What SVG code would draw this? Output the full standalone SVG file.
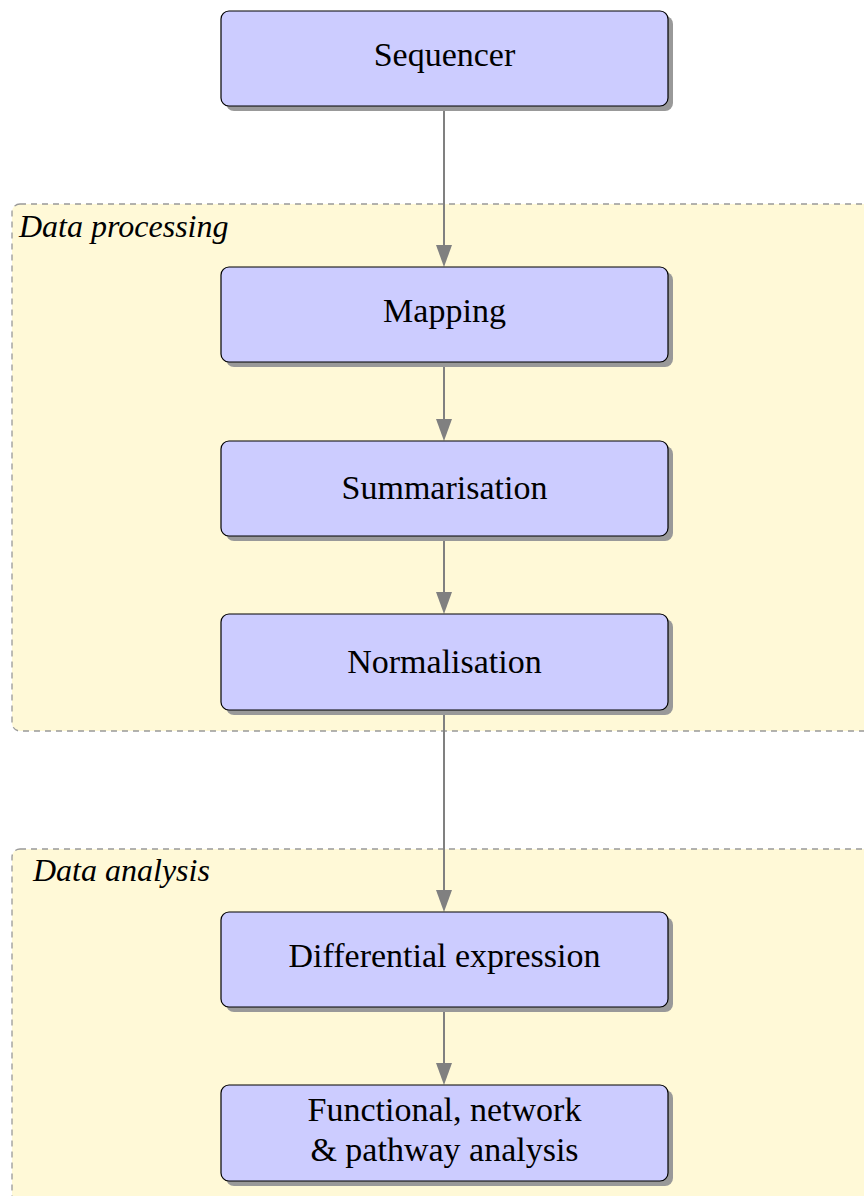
<svg xmlns="http://www.w3.org/2000/svg" width="864" height="1196" viewBox="0 0 864 1196">
<style>
.panel{fill:#fff9d7;stroke:#999;stroke-width:1.3;stroke-dasharray:6 5}
.plabel{font-family:"Liberation Serif",serif;font-style:italic;font-size:32px;fill:#000}
.shadow{fill:#999}
.box{fill:#ccccff;stroke:#000;stroke-width:1.2}
.lbl{font-family:"Liberation Serif",serif;font-size:34px;fill:#000;text-anchor:middle}
.conn{stroke:#808080;stroke-width:2;fill:none}
.head{fill:#808080}
</style>
<rect width="864" height="1196" fill="#fff"/>
<g id="panel-processing">
<rect class="panel" x="12" y="204" width="880" height="527" rx="8"/>
<text class="plabel" x="19" y="237">Data processing</text>
</g>
<g id="panel-analysis">
<rect class="panel" x="12" y="849" width="880" height="400" rx="8"/>
<text class="plabel" x="33" y="881">Data analysis</text>
</g>
<g id="connectors">
<line class="conn" x1="444" y1="106" x2="444" y2="250"/>
<polygon class="head" points="436,245 452,245 444,267"/>
<line class="conn" x1="444" y1="362" x2="444" y2="424"/>
<polygon class="head" points="436,419 452,419 444,441"/>
<line class="conn" x1="444" y1="536" x2="444" y2="597"/>
<polygon class="head" points="436,592 452,592 444,614"/>
<line class="conn" x1="444" y1="710" x2="444" y2="895"/>
<polygon class="head" points="436,890 452,890 444,912"/>
<line class="conn" x1="444" y1="1007" x2="444" y2="1068"/>
<polygon class="head" points="436,1063 452,1063 444,1085"/>
</g>
<g id="sequencer">
<rect class="shadow" x="226" y="16" width="447" height="95" rx="8"/>
<rect class="box" x="221" y="11" width="447" height="95" rx="8"/>
<text class="lbl" x="444.5" y="66">Sequencer</text>
</g>
<g id="mapping">
<rect class="shadow" x="226" y="272" width="447" height="95" rx="8"/>
<rect class="box" x="221" y="267" width="447" height="95" rx="8"/>
<text class="lbl" x="444.5" y="322">Mapping</text>
</g>
<g id="summarisation">
<rect class="shadow" x="226" y="446" width="447" height="95" rx="8"/>
<rect class="box" x="221" y="441" width="447" height="95" rx="8"/>
<text class="lbl" x="444.5" y="499">Summarisation</text>
</g>
<g id="normalisation">
<rect class="shadow" x="226" y="619" width="447" height="96" rx="8"/>
<rect class="box" x="221" y="614" width="447" height="96" rx="8"/>
<text class="lbl" x="444.5" y="673">Normalisation</text>
</g>
<g id="differential">
<rect class="shadow" x="226" y="917" width="447" height="95" rx="8"/>
<rect class="box" x="221" y="912" width="447" height="95" rx="8"/>
<text class="lbl" x="444.5" y="967">Differential expression</text>
</g>
<g id="functional">
<rect class="shadow" x="226" y="1090" width="447" height="96" rx="8"/>
<rect class="box" x="221" y="1085" width="447" height="96" rx="8"/>
<text class="lbl" x="444.5" y="1121">Functional, network</text>
<text class="lbl" x="444.5" y="1161">&amp; pathway analysis</text>
</g>
</svg>
